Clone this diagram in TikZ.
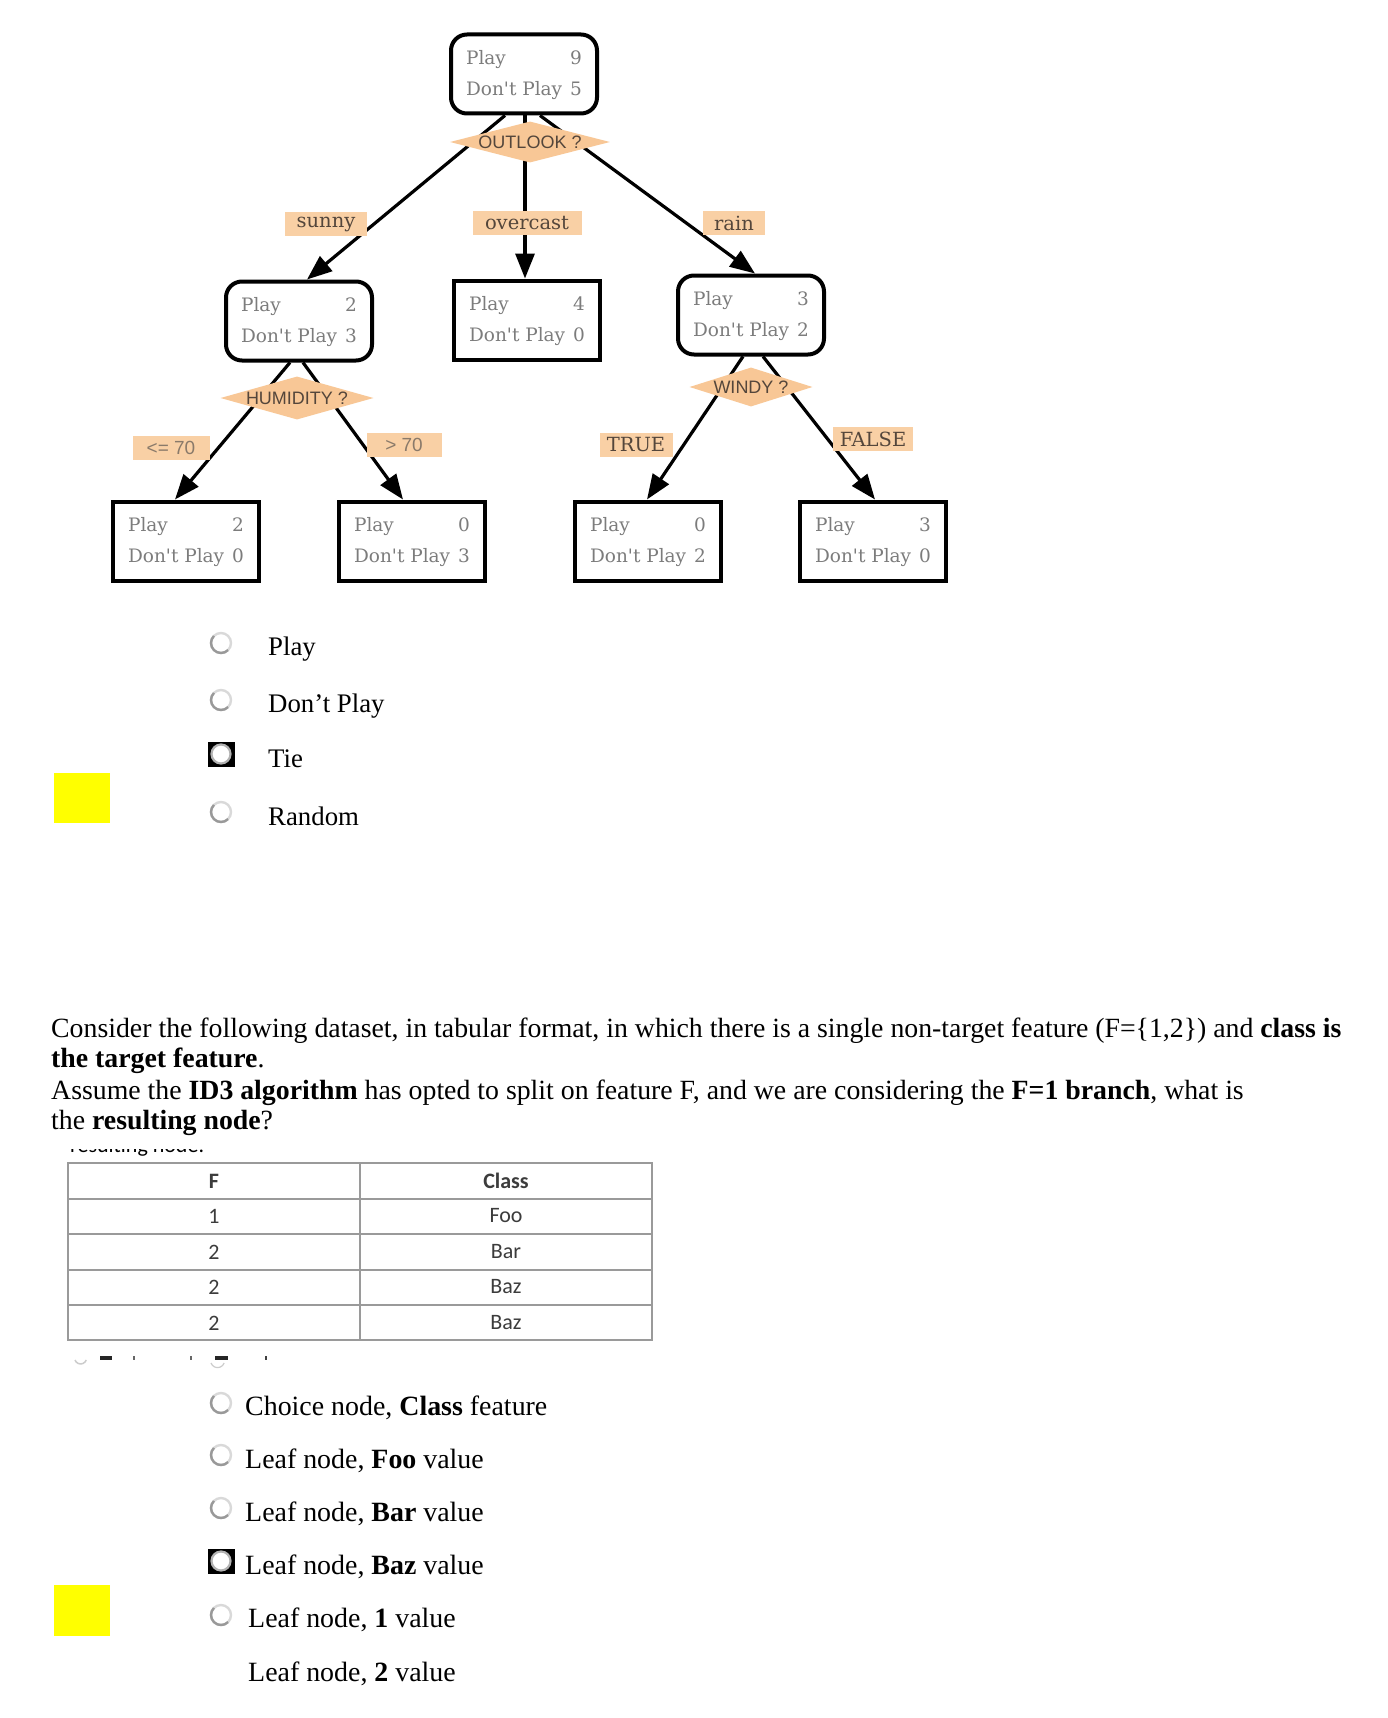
\documentclass[tikz,border=0pt]{standalone}
\usepackage{fontspec}
\setmainfont{Liberation Serif}
\newfontfamily\treefont{DejaVu Serif}
\newfontfamily\sansfam{Liberation Sans}
\newfontfamily\calfam{Carlito}
\usetikzlibrary{shapes.geometric,arrows.meta}
\definecolor{peach}{HTML}{F9D0A5}
\definecolor{peachd}{HTML}{F8C796}
\definecolor{boxtxt}{HTML}{7C7C7C}
\definecolor{labtxt}{HTML}{54463B}
\definecolor{labtxtl}{HTML}{8A7A6A}
\definecolor{gridc}{HTML}{9A9A9A}
\definecolor{tabtxt}{HTML}{3C3C3C}
\definecolor{hilite}{HTML}{FFFF00}
\newcommand\pd[2]{\begin{tabular}{@{}l@{\hspace{8pt}}r@{}}Play&#1\\Don't Play&#2\end{tabular}}
\begin{document}
\begin{tikzpicture}[x=1pt,y=-1pt,
  rbox/.style={draw=black, line width=4pt, rounded corners=16pt, fill=white,
    minimum width=146pt, minimum height=79pt, inner sep=0pt,
    font=\treefont\fontsize{18.5}{31}\selectfont, text=boxtxt},
  sbox/.style={rbox, rounded corners=0pt},
  edge/.style={line width=3.2pt, draw=black, -{Triangle[length=25pt,width=19pt]}},
  elab/.style={fill=peach, inner sep=0pt, minimum height=24pt,
    font=\treefont\fontsize{19.5}{19.5}\selectfont, text=labtxt},
  slab/.style={elab, font=\sansfam\fontsize{19}{19}\selectfont, text=labtxtl},
  dia/.style={diamond, fill=peachd, inner sep=0pt,
    font=\sansfam\fontsize{18}{18}\selectfont, text=labtxt},
  opt/.style={anchor=base west, inner sep=0pt, font=\fontsize{26.8}{30}\selectfont},
  optb/.style={anchor=base west, inner sep=0pt, font=\fontsize{27.9}{30}\selectfont},
  para/.style={anchor=base west, inner sep=0pt, font=\fontsize{27.8}{30}\selectfont},
  tcell/.style={inner sep=0pt, font=\calfam\fontsize{22}{22}\selectfont, text=tabtxt},
  radio/.pic={
    \fill[white] (0,0) circle (10pt);
    \draw[line width=2.4pt, draw=gray!30] (0,0) circle (10pt);
    \draw[line width=2.4pt, draw=gray!80] (135:10pt) arc[start angle=135, end angle=315, radius=10pt];
  },
  radiosel/.pic={
    \fill[black] (-13.5,-12.5) rectangle (13.5,12.5);
    \fill[white] (0,0) circle (9.5pt);
    \draw[line width=2.2pt, draw=gray!60] (0,0) circle (9.5pt);
  }
]
\useasboundingbox[fill=white] (0,0) rectangle (1388,1718);

% ---------- tree boxes ----------
\node[rbox] (root) at (524,74) {\pd{9}{5}};
\node[rbox] (sunB) at (299,321) {\pd{2}{3}};
\node[sbox] (ovB) at (527,320) {\pd{4}{0}};
\node[rbox] (rainB) at (751,315) {\pd{3}{2}};
\node[sbox] (l1) at (186,541) {\pd{2}{0}};
\node[sbox] (l2) at (412,541) {\pd{0}{3}};
\node[sbox] (l3) at (648,541) {\pd{0}{2}};
\node[sbox] (l4) at (873,541) {\pd{3}{0}};

% ---------- connectors ----------
\draw[edge] ([xshift=-19pt]root.south) -- ([xshift=8pt]sunB.north);
\draw[edge] ([xshift=1pt]root.south) -- ([xshift=-2pt]ovB.north);
\draw[edge] ([xshift=16pt]root.south) -- ([xshift=4pt]rainB.north);
\draw[edge] ([xshift=-9pt]sunB.south) -- ([xshift=-11pt]l1.north);
\draw[edge] ([xshift=4pt]sunB.south) -- ([xshift=-9pt]l2.north);
\draw[edge] ([xshift=-8pt]rainB.south) -- ([xshift=-1pt]l3.north);
\draw[edge] ([xshift=12pt]rainB.south) -- ([xshift=2pt]l4.north);

% ---------- decision diamonds ----------
\node[dia, minimum width=160pt, minimum height=41pt] (qOut) at (530,142) {\makebox[0pt]{OUTLOOK ?}};
\node[dia, minimum width=153pt, minimum height=43pt] (qHum) at (297,398) {\makebox[0pt]{HUMIDITY ?}};
\node[dia, minimum width=123pt, minimum height=39pt] (qWin) at (751,387) {\makebox[0pt]{WINDY ?}};

% ---------- edge labels ----------
\node[elab, minimum width=82pt] (lSun) at (326,224) {sunny};
\node[elab, minimum width=109pt] (lOv) at (527,223) {overcast};
\node[elab, minimum width=62pt] (lRain) at (734,223) {rain};
\node[slab, minimum width=77pt] (lLe) at (171,448) {<= 70};
\node[slab, minimum width=75pt] (lGt) at (404,445) {> 70};
\node[elab, minimum width=73pt] (lTr) at (636,445) {TRUE};
\node[elab, minimum width=80pt] (lFa) at (873,439) {FALSE};

% ---------- first question options ----------
\pic at (221,643) {radio};
\pic at (221,700) {radio};
\pic at (221,754) {radiosel};
\pic at (221,812) {radio};
\node[opt] (o1) at (268,655) {Play};
\node[opt] (o2) at (268,712) {Don't Play};
\node[opt] (o3) at (268,767) {Tie};
\node[opt] (o4) at (268,825) {Random};
\fill[hilite] (54,773) rectangle (110,823);

% ---------- second question ----------
\node[para] (p1) at (51,1037) {Consider the following dataset, in tabular format, in which there is a single non-target feature (F=\{1,2\}) and \textbf{class is}};
\node[para] (p2) at (51,1067) {\textbf{the target feature}.};
\node[para] (p3) at (51,1099) {Assume the \textbf{ID3 algorithm} has opted to split on feature F, and we are considering the \textbf{F=1 branch}, what is};
\node[para] (p4) at (51,1129) {the \textbf{resulting node}?};

\begin{scope}
  \clip (60,1149.5) rectangle (220,1158);
  \node[anchor=base west, inner sep=0pt, font=\calfam\fontsize{22}{22}\selectfont] (cut1) at (70,1152) {resulting node.};
\end{scope}

% ---------- table ----------
\draw[gridc, line width=2pt] (68,1163) rectangle (652,1340);
\foreach \yy in {1199,1234,1270,1305} \draw[gridc, line width=2pt] (68,\yy) -- (652,\yy);
\draw[gridc, line width=2pt] (360,1163) -- (360,1340);
\node[tcell] (hF) at (214,1181) {\textbf{F}};
\node[tcell] (hC) at (506,1181) {\textbf{Class}};
\node[tcell] (r1a) at (214,1216) {1};
\node[tcell] (r1b) at (506,1216) {Foo};
\node[tcell] (r2a) at (214,1252) {2};
\node[tcell] (r2b) at (506,1252) {Bar};
\node[tcell] (r3a) at (214,1287) {2};
\node[tcell] (r3b) at (506,1287) {Baz};
\node[tcell] (r4a) at (214,1323) {2};
\node[tcell] (r4b) at (506,1323) {Baz};

% remnants below the table
\draw[gray!40, line width=1.5pt] (75,1360) arc[start angle=200, end angle=340, radius=6pt];
\fill[black!85] (100,1356) rectangle (112,1360);
\fill[black!60] (133,1356) rectangle (135,1360);
\fill[black!60] (190,1356) rectangle (192,1360);
\fill[black!85] (215,1356) rectangle (228,1360);
\draw[gray!40, line width=1.2pt] (211,1363) arc[start angle=200, end angle=340, radius=7pt];
\fill[black!75] (265,1356) rectangle (267,1360);

% ---------- second question options ----------
\pic at (221,1403) {radio};
\pic at (221,1455) {radio};
\pic at (221,1508) {radio};
\pic at (221,1561) {radiosel};
\pic at (221,1615) {radio};
\node[optb] (q1) at (245,1415) {Choice node, \textbf{Class} feature};
\node[optb] (q2) at (245,1468) {Leaf node, \textbf{Foo} value};
\node[optb] (q3) at (245,1521) {Leaf node, \textbf{Bar} value};
\node[optb] (q4) at (245,1574) {Leaf node, \textbf{Baz} value};
\node[optb] (q5) at (248,1627) {Leaf node, \textbf{1} value};
\node[optb] (q6) at (248,1681) {Leaf node, \textbf{2} value};
\fill[hilite] (54,1585) rectangle (110,1636);
\end{tikzpicture}
\end{document}
